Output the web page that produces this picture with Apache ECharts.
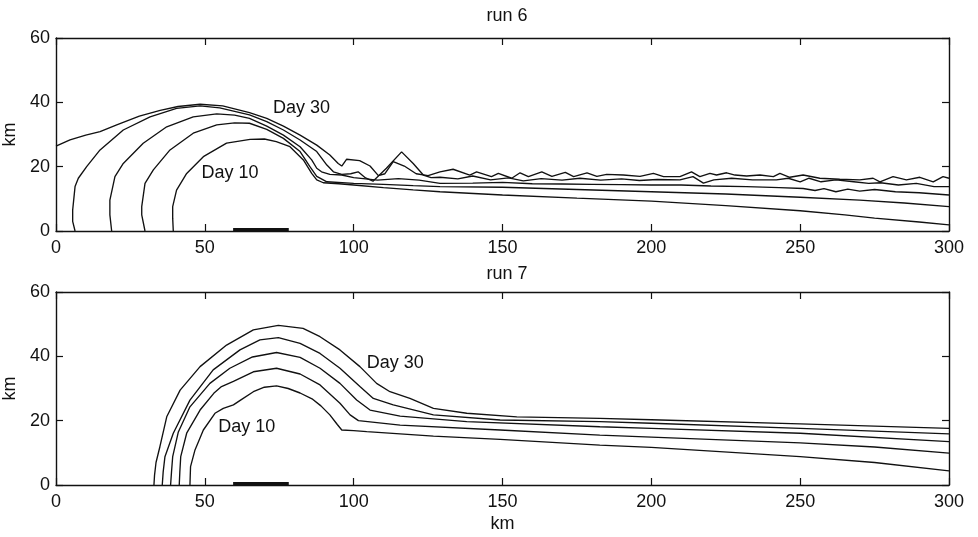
<!DOCTYPE html>
<html>
<head>
<meta charset="utf-8">
<script src="https://cdn.jsdelivr.net/npm/echarts@6/dist/echarts.min.js"></script>
<style>
  html, body { margin: 0; padding: 0; background: #fff; }
  #chart { width: 978px; height: 537px; }
</style>
</head>
<body>
<div id="chart"></div>
<script>
// x ticks and y ticks
var xTicks = [0, 50, 100, 150, 200, 250, 300];
var yTicks = [0, 20, 40, 60];

// run 6 contours [km along, km height]
var run6Day10 = [[39.4,0],[39.2,4],[39.2,7.6],[40.5,12.7],[43.9,17.9],[49.5,23.1],[57.3,27.3],[65.2,28.5],[70,28.6],[74,27.8],[78.6,26.2],[83.1,22.1],[85.9,17.9],[87.6,15.9],[89.8,15.0],[95,14.7],[100,14.3],[110,13.5],[120,12.8],[129,12.2],[150,11.2],[175,10.2],[200,9.3],[225,7.9],[250,6.3],[265,5.0],[275,4.0],[290,2.8],[300,1.9]];
var run6Day15 = [[29.9,0],[28.8,5],[28.8,7.6],[29.9,14.8],[32.7,19],[38.3,25.2],[46.1,30.4],[54,33],[60,33.6],[65,33.5],[70.8,31.6],[76.4,28.8],[82,24.7],[85.3,20.0],[87.6,17.0],[91,15.3],[100,14.8],[110,14.5],[120,14.1],[129,13.8],[150,13.6],[175,12.9],[200,12.2],[225,11.5],[250,10.5],[270,9.6],[285,8.7],[300,7.6]];
var run6Day20 = [[18.7,0],[18.1,5],[18.1,9.6],[19.8,16.9],[22.6,21],[29.3,27.3],[37.2,32.4],[46.1,35.5],[54,36.4],[60,36],[65,35],[70.8,32.6],[76.4,29.8],[82,26.2],[85.9,22.1],[87.6,19.5],[89.2,18.4],[92,17.6],[96,17.4],[100,16.6],[104,16.2],[108,15.8],[115,16.3],[122,15.8],[129,14.8],[140,14.9],[150,15.1],[160,14.7],[170,14.6],[180,14.5],[190,14.4],[200,14.3],[210,14.3],[220,14.0],[232,13.8],[243,13.5],[251,13.2],[255,12.6],[258,13.2],[262,12.2],[266,13.0],[270,12.4],[275,12.9],[282,12.2],[290,11.9],[300,11.2]];
var run6Day25 = [[6.4,0],[5.6,3],[5.6,6.5],[6.4,13.8],[7.5,16.4],[10.3,20],[14.8,25.2],[22.6,31.4],[31.6,35.5],[40.5,38.1],[48.4,38.9],[55,38.3],[65,36.1],[70.8,34.0],[76.4,31.4],[82,28.3],[87.6,24.7],[91,20.5],[93.2,18.4],[96,17.6],[99,17.8],[101.5,18.4],[104,16.5],[106.5,15.5],[111,19.5],[116.1,24.6],[120,21],[123.4,17.4],[126,16.6],[129,16.7],[135,16.2],[140,17.1],[146,15.9],[152,16.5],[157,15.6],[163,16.3],[170,15.8],[176,16.4],[183,15.8],[190,16.2],[196,15.7],[202,16.0],[209.6,15.9],[214,16.9],[217.5,14.9],[221,15.9],[227,16.4],[234,15.9],[242,15.9],[246,16.4],[250,15.3],[253,16.4],[257,15.3],[262,15.9],[268,15.3],[273,14.8],[277,15.0],[283,14.3],[289,14.8],[295,13.8],[300,13.8]];
var run6Day30 = [[0,26.4],[4.7,28.3],[10,29.8],[14.8,30.9],[20.4,33.0],[28,35.7],[35,37.5],[41,38.7],[48.4,39.4],[56,38.9],[65,36.8],[70.8,35.0],[76.4,32.6],[82,29.8],[87.6,26.7],[92,23.6],[94.8,21.0],[96,20.2],[97.6,22.3],[102,21.9],[105.5,20.2],[108.3,17.2],[110.5,17.8],[113.3,21.6],[117,20.2],[121,17.8],[125,17.2],[129,18.4],[133.4,19.2],[139,17.4],[141.3,18.4],[146.3,16.9],[148.6,17.9],[153.1,16.4],[155.9,18.1],[158.7,16.9],[163.2,18.4],[166.6,17.0],[171.1,18.2],[173.9,16.9],[178.4,18.1],[181.7,17.0],[185,17.6],[190.6,17.4],[196.2,17.0],[200.7,17.9],[204.1,16.9],[209.6,16.9],[213.5,18.4],[216.3,16.9],[219.7,17.9],[221.9,17.4],[225.3,18.1],[228.1,17.4],[232,17.1],[236.5,17.4],[241,16.9],[243.2,17.9],[246.5,16.7],[251,17.4],[256.6,16.4],[263.3,16.1],[270,15.9],[274.5,16.4],[276.8,15.3],[281.2,16.9],[285.7,15.9],[290.2,16.7],[294.7,15.3],[298,16.9],[300,16.4]];

// run 7 contours
var run7Day10 = [[45,0],[45.1,3],[45.2,5.7],[46.7,10.9],[49.5,17.1],[53.4,22.3],[56.2,23.8],[59.6,24.9],[62,26.4],[66.3,29.0],[70,30.4],[74.1,30.8],[78,30],[82,28.6],[86,26.8],[89,24.6],[92,21.8],[94.5,18.8],[96,17.1],[100,16.9],[104.4,16.6],[126.8,15.2],[149.2,14.2],[182.7,12.4],[200,11.7],[250,8.8],[275,7.0],[300,4.4]];
var run7Day15 = [[41.4,0],[41.6,4],[41.9,8.8],[43.9,16.1],[48.4,23.3],[53,28.5],[55.6,30.6],[59.6,32.2],[66.3,35.2],[74.1,36.3],[82,34.5],[88.7,31.1],[95.4,25.4],[98.8,21.8],[101.6,20.0],[115.6,18.6],[149.2,17.1],[182.7,15.5],[200,14.9],[250,13.1],[275,11.8],[300,9.9]];
var run7Day20 = [[38.5,0],[38.8,4],[39.2,8.8],[41.1,16.5],[45,24.3],[51.7,31.6],[58.4,36.3],[66,39.8],[74.1,41.2],[82,39.7],[88.7,36.3],[95.4,31.6],[101,26.4],[105.5,23.3],[115.6,21.4],[138,19.7],[182.7,18.1],[200,17.6],[250,16.1],[300,13.5]];
var run7Day25 = [[35.7,0],[36,4],[36.6,8.8],[39.4,16.1],[45,26.4],[52.8,35.8],[61.8,42],[68.5,45.1],[74.7,45.8],[82,44],[88.7,40.9],[95.4,36.3],[102.1,30.6],[106.6,26.9],[113.3,24.9],[126.8,21.8],[149.2,20.2],[182.7,19.7],[200,19.2],[250,17.6],[300,15.9]];
var run7Day30 = [[32.9,0],[33.1,3],[33.6,7],[34.9,11.9],[37.2,21.2],[41.7,29.5],[48.4,36.8],[57.3,43.5],[66.3,48.2],[74.7,49.6],[83,48.7],[88.7,46.1],[95.4,42],[102.1,36.8],[107.7,31.6],[112.2,29],[118.9,26.9],[126.8,23.8],[138,22.3],[154.8,21.2],[182.7,20.7],[200,20.3],[250,19.0],[300,17.6]];

// thick strip on the ground
var strip = [[59.5,0.45],[78.2,0.45]];

// labels
var run6Labels = [{name:'Day 30', value:[72.9,38.2]}, {name:'Day 10', value:[48.9,17.9]}];
var run7Labels = [{name:'Day 30', value:[104.4,37.8]}, {name:'Day 10', value:[54.5,18.1]}];

var font = 'Liberation Sans, Arial, Helvetica, sans-serif';
var ink = '#111';

function xAx(grid, pos, showLabel, name) {
    return {
        type: 'value', gridIndex: grid, position: pos,
        min: 0, max: 300, interval: 50,
        name: name || '', nameLocation: 'middle', nameGap: 30,
        nameTextStyle: {color: ink, fontSize: 18, fontFamily: font},
        axisLine: {show: true, onZero: false, lineStyle: {color: ink, width: 1.4}},
        axisTick: {show: true, inside: true, length: 7, lineStyle: {color: ink, width: 1.2}},
        axisLabel: {show: showLabel, color: ink, fontSize: 18, fontFamily: font, margin: 8},
        splitLine: {show: false}
    };
}
function yAx(grid, pos, showLabel) {
    return {
        type: 'value', gridIndex: grid, position: pos,
        min: 0, max: 60, interval: 20,
        name: showLabel ? 'km' : '', nameLocation: 'middle', nameGap: 31,
        nameTextStyle: {color: ink, fontSize: 18, fontFamily: font},
        axisLine: {show: true, onZero: false, lineStyle: {color: ink, width: 1.4}},
        axisTick: {show: true, inside: true, length: 7, lineStyle: {color: ink, width: 1.2}},
        axisLabel: {show: showLabel, color: ink, fontSize: 18, fontFamily: font, margin: 6},
        splitLine: {show: false}
    };
}
function curve(data, ax) {
    return {type: 'line', data: data, xAxisIndex: ax, yAxisIndex: ax, showSymbol: false, symbol: 'none',
        lineStyle: {color: ink, width: 1.35}, animation: false, silent: true};
}
function labels(data, ax) {
    return {type: 'scatter', data: data, xAxisIndex: ax, yAxisIndex: ax, symbolSize: 0, animation: false,
        itemStyle: {opacity: 1},
        label: {show: true, position: 'right', distance: 0, formatter: '{b}', color: ink, opacity: 1, fontSize: 18, fontFamily: font}};
}

var myChart = echarts.init(document.getElementById('chart'));
var option = {
    backgroundColor: '#fff',
    title: [
        {text: 'run 6', left: 502, top: 2, textAlign: 'center', textStyle: {color: ink, fontSize: 18, fontWeight: 'normal', fontFamily: font}},
        {text: 'run 7', left: 502, top: 260, textAlign: 'center', textStyle: {color: ink, fontSize: 18, fontWeight: 'normal', fontFamily: font}}
    ],
    grid: [
        {left: 56, top: 38, width: 893, height: 193, containLabel: false, outerBoundsMode: 'none'},
        {left: 56, top: 292, width: 893, height: 193, containLabel: false, outerBoundsMode: 'none'}
    ],
    xAxis: [xAx(0, 'bottom', true), xAx(0, 'top', false), xAx(1, 'bottom', true, 'km'), xAx(1, 'top', false)],
    yAxis: [yAx(0, 'left', true), yAx(0, 'right', false), yAx(1, 'left', true), yAx(1, 'right', false)],
    series: [
        curve(run6Day10, 0), curve(run6Day15, 0), curve(run6Day20, 0), curve(run6Day25, 0), curve(run6Day30, 0),
        {type: 'line', data: strip, xAxisIndex: 0, yAxisIndex: 0, symbol: 'none', lineStyle: {color: ink, width: 3}, animation: false},
        labels(run6Labels, 0),
        curve(run7Day10, 2), curve(run7Day15, 2), curve(run7Day20, 2), curve(run7Day25, 2), curve(run7Day30, 2),
        {type: 'line', data: strip, xAxisIndex: 2, yAxisIndex: 2, symbol: 'none', lineStyle: {color: ink, width: 3}, animation: false},
        labels(run7Labels, 2)
    ]
};
myChart.setOption(option);
</script>
</body>
</html>
